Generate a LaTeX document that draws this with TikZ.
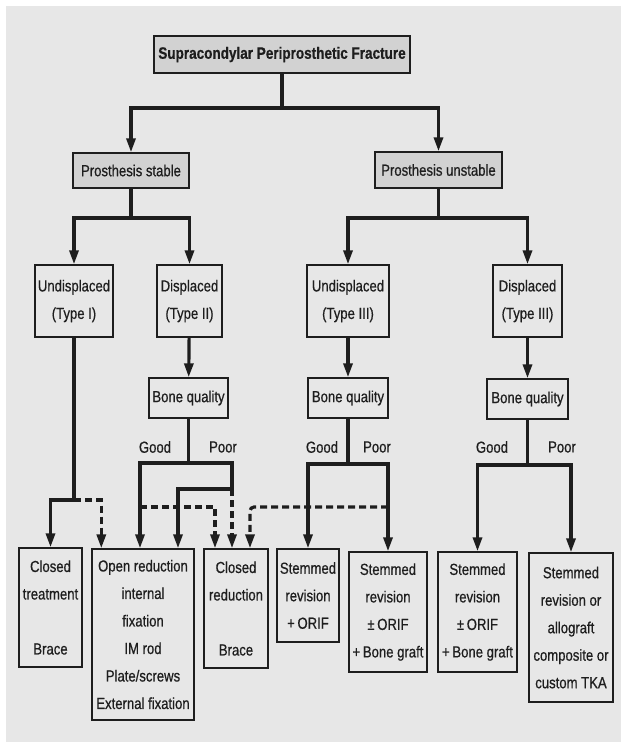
\documentclass[tikz,border=0pt]{standalone}
\usepackage{fontspec}
\setmainfont{Liberation Sans}[FakeStretch=0.82,FakeBold=0.6]
\usetikzlibrary{arrows.meta}

\definecolor{paper}{HTML}{E7E7E7}
\definecolor{boxgray}{HTML}{D2D2D2}
\definecolor{ink}{HTML}{1E1E1E}

\tikzset{
  box/.style={draw=ink, line width=1.4pt, rectangle, align=center, inner sep=2pt,
    text=ink, font=\fontsize{16}{27.5}\selectfont},
  headbox/.style={box, fill=boxgray},
  link/.style={draw=ink, line width=3.2pt},
  linkarrow/.style={link, -{Triangle[length=14pt,width=9pt]}},
  dashlink/.style={link, dash pattern=on 7pt off 4pt},
  dasharrow/.style={dashlink, -{Triangle[length=14pt,width=9pt]}},
  lbl/.style={text=ink, font=\fontsize{16}{18}\selectfont}
}

\begin{document}
\begin{tikzpicture}[x=1pt,y=-1pt]
\useasboundingbox (0,0) rectangle (621,745);
\fill[white] (0,0) rectangle (621,745);
\fill[paper] (6,6) rectangle (621,742);

% top levels
\node[headbox, minimum width=256pt, minimum height=37pt, font=\fontsize{16.5}{18}\selectfont\bfseries](fracture) at (282,54.5) {Supracondylar Periprosthetic Fracture};
\node[headbox, minimum width=116pt, minimum height=35pt](stable) at (131,170.5) {Prosthesis stable};
\node[headbox, minimum width=127pt, minimum height=36pt](unstable) at (438.5,170) {Prosthesis unstable};

% fracture types
\node[box, minimum width=78pt, minimum height=72pt](undispI) at (74,301) {Undisplaced\\(Type I)};
\node[box, minimum width=65pt, minimum height=72pt](dispII) at (189.5,301) {Displaced\\(Type II)};
\node[box, minimum width=82pt, minimum height=72pt](undispIII) at (348,301) {Undisplaced\\(Type III)};
\node[box, minimum width=69pt, minimum height=72pt](dispIII) at (527.5,301) {Displaced\\(Type III)};

% bone quality
\node[box, minimum width=79pt, minimum height=40pt](boneII) at (188.5,398) {Bone quality};
\node[box, minimum width=80pt, minimum height=40pt](boneIIIa) at (348,398) {Bone quality};
\node[box, minimum width=81pt, minimum height=40pt](boneIIIb) at (527.5,399) {Bone quality};

\node[lbl](goodII) at (155,447) {Good};
\node[lbl](poorII) at (223,447) {Poor};
\node[lbl](goodIIIa) at (322,447) {Good};
\node[lbl](poorIIIa) at (377,447) {Poor};
\node[lbl](goodIIIb) at (492,447) {Good};
\node[lbl](poorIIIb) at (562,447) {Poor};

% treatments
\node[box, minimum width=63pt, minimum height=119pt](closedtreat) at (50.5,607.5) {Closed\\treatment\\[27.5pt]Brace};
\node[box, minimum width=102pt, minimum height=171pt](orif) at (143,634.5) {Open reduction\\internal\\fixation\\IM rod\\Plate/screws\\External fixation};
\node[box, minimum width=64pt, minimum height=119pt](closedred) at (236,608.5) {Closed\\reduction\\[27.5pt]Brace};
\node[box, minimum width=62pt, minimum height=93pt](stemA) at (308,595.5) {Stemmed\\revision\\+\,ORIF};
\node[box, minimum width=78pt, minimum height=120pt](stemB) at (388,612) {Stemmed\\revision\\±\,ORIF\\+\,Bone graft};
\node[box, minimum width=79pt, minimum height=120pt](stemC) at (477.5,612) {Stemmed\\revision\\±\,ORIF\\+\,Bone graft};
\node[box, minimum width=84pt, minimum height=149pt](stemD) at (571,627.5) {Stemmed\\revision or\\allograft\\composite or\\custom TKA};

% junctions
\coordinate (jtop) at (282,108);
\coordinate (jstable) at (131,218);
\coordinate (junstable) at (438.5,218);
\coordinate (jI) at (74,500);
\coordinate (jII) at (188.5,463);
\coordinate (jIIpoor) at (232,489);
\coordinate (jIIgood) at (140,507);
\coordinate (jIIIa) at (348,464);
\coordinate (jIIIapoor) at (388,507);
\coordinate (jIIIb) at (527.5,465);

\draw[link](fracture) to (jtop);
\draw[linkarrow](jtop) -| (stable);
\draw[linkarrow](jtop) -| (unstable);
\draw[link](stable) to (jstable);
\draw[linkarrow](jstable) -| (undispI);
\draw[linkarrow](jstable) -| (dispII);
\draw[link](unstable) to (junstable);
\draw[linkarrow](junstable) -| (undispIII);
\draw[linkarrow](junstable) -| (dispIII);

\draw[linkarrow](dispII) to (boneII);
\draw[linkarrow](undispIII) to (boneIIIa);
\draw[linkarrow](dispIII) to (boneIIIb);

% type I
\draw[link](undispI) to (jI);
\draw[linkarrow](jI) -| (closedtreat);
\draw[dasharrow](jI) -| ([xshift=10pt]orif.north west);

% type II
\draw[link](boneII) to (jII);
\draw[linkarrow](jII) -| ([xshift=-3pt]orif.north);
\draw[link](jII) -| (jIIpoor);
\draw[linkarrow](jIIpoor) -| ([xshift=35pt]orif.north);
\draw[dasharrow](jIIpoor) -- ([xshift=-4pt]closedred.north);
\draw[dasharrow](jIIgood) -| ([xshift=-21pt]closedred.north);

% type III undisplaced
\draw[link](boneIIIa) to (jIIIa);
\draw[linkarrow](jIIIa) -| (stemA);
\draw[linkarrow](jIIIa) -| (stemB);
\draw[dasharrow, rounded corners=4pt](jIIIapoor) -| ([xshift=14pt]closedred.north);

% type III displaced
\draw[link](boneIIIb) to (jIIIb);
\draw[linkarrow](jIIIb) -| (stemC);
\draw[linkarrow](jIIIb) -| (stemD);
\end{tikzpicture}
\end{document}
